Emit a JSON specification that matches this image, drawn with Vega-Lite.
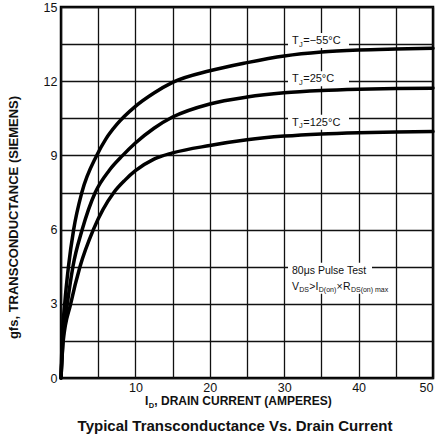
{
  "$schema": "https://vega.github.io/schema/vega-lite/v6.json",
  "width": 372,
  "height": 371,
  "autosize": {"type": "none"},
  "padding": {"left": 61, "top": 7, "right": 7, "bottom": 56},
  "background": "white",
  "config": {
    "font": "Liberation Sans",
    "view": {"stroke": "black", "strokeWidth": 2.5},
    "axis": {
      "labelFont": "Liberation Sans",
      "labelFontSize": 12.5,
      "labelColor": "#111",
      "grid": true,
      "gridColor": "#111",
      "gridWidth": 1.3,
      "gridOpacity": 1,
      "domain": false,
      "ticks": false,
      "tickCount": 30,
      "labelPadding": 4
    },
    "text": {"font": "Liberation Sans", "color": "#111"}
  },
  "title": {
    "text": "Typical Transconductance Vs. Drain Current",
    "orient": "bottom",
    "anchor": "middle",
    "font": "Liberation Sans",
    "fontSize": 15,
    "fontWeight": "bold",
    "color": "#111",
    "offset": 10,
    "dx": -12
  },
  "datasets": {
    "curves": [
      {"tj": "-55", "id": 0, "gfs": 0},
      {"tj": "-55", "id": 0.15, "gfs": 1.5},
      {"tj": "-55", "id": 0.5, "gfs": 3},
      {"tj": "-55", "id": 1.0, "gfs": 4.5},
      {"tj": "-55", "id": 1.7, "gfs": 6},
      {"tj": "-55", "id": 2.8, "gfs": 7.5},
      {"tj": "-55", "id": 4.8, "gfs": 9},
      {"tj": "-55", "id": 6, "gfs": 9.65},
      {"tj": "-55", "id": 7.5, "gfs": 10.25},
      {"tj": "-55", "id": 10, "gfs": 10.98},
      {"tj": "-55", "id": 12.5, "gfs": 11.52},
      {"tj": "-55", "id": 15, "gfs": 11.95},
      {"tj": "-55", "id": 20, "gfs": 12.42},
      {"tj": "-55", "id": 25, "gfs": 12.75},
      {"tj": "-55", "id": 30, "gfs": 13.02},
      {"tj": "-55", "id": 35, "gfs": 13.18},
      {"tj": "-55", "id": 40, "gfs": 13.26},
      {"tj": "-55", "id": 45, "gfs": 13.3},
      {"tj": "-55", "id": 50, "gfs": 13.33},
      {"tj": "25", "id": 0, "gfs": 0},
      {"tj": "25", "id": 0.25, "gfs": 1.5},
      {"tj": "25", "id": 0.85, "gfs": 3},
      {"tj": "25", "id": 1.6, "gfs": 4.5},
      {"tj": "25", "id": 2.85, "gfs": 6},
      {"tj": "25", "id": 4.6, "gfs": 7.5},
      {"tj": "25", "id": 6.5, "gfs": 8.4},
      {"tj": "25", "id": 8.3, "gfs": 9},
      {"tj": "25", "id": 10, "gfs": 9.5},
      {"tj": "25", "id": 12.5, "gfs": 10.1},
      {"tj": "25", "id": 15, "gfs": 10.55},
      {"tj": "25", "id": 20, "gfs": 11.08},
      {"tj": "25", "id": 25, "gfs": 11.36},
      {"tj": "25", "id": 30, "gfs": 11.53},
      {"tj": "25", "id": 35, "gfs": 11.62},
      {"tj": "25", "id": 40, "gfs": 11.67},
      {"tj": "25", "id": 45, "gfs": 11.7},
      {"tj": "25", "id": 50, "gfs": 11.72},
      {"tj": "125", "id": 0, "gfs": 0},
      {"tj": "125", "id": 0.3, "gfs": 1.5},
      {"tj": "125", "id": 1.3, "gfs": 3},
      {"tj": "125", "id": 2.55, "gfs": 4.5},
      {"tj": "125", "id": 4.35, "gfs": 6},
      {"tj": "125", "id": 7.1, "gfs": 7.5},
      {"tj": "125", "id": 8.6, "gfs": 8.0},
      {"tj": "125", "id": 10, "gfs": 8.38},
      {"tj": "125", "id": 12.5, "gfs": 8.85},
      {"tj": "125", "id": 15, "gfs": 9.1},
      {"tj": "125", "id": 20, "gfs": 9.4},
      {"tj": "125", "id": 25, "gfs": 9.63},
      {"tj": "125", "id": 30, "gfs": 9.78},
      {"tj": "125", "id": 35, "gfs": 9.87},
      {"tj": "125", "id": 40, "gfs": 9.92},
      {"tj": "125", "id": 45, "gfs": 9.95},
      {"tj": "125", "id": 50, "gfs": 9.97}
    ],
    "labels": [
      {"tj": "-55", "id": 31.05, "gfs": 13.5, "rest": "=−55°C"},
      {"tj": "25", "id": 31.05, "gfs": 11.96, "rest": "=25°C"},
      {"tj": "125", "id": 31.05, "gfs": 10.2, "rest": "=125°C"}
    ],
    "note1": [
      {"id": 31.05, "gfs": 4.22, "text": "80μs Pulse Test"}
    ],
    "note2": [
      {"id": 31.05, "gfs": 3.57}
    ],
    "xtitle": [
      {"id": 11.3, "gfs": 0}
    ]
  },
  "layer": [
    {
      "data": {"name": "labels"},
      "mark": {"type": "point", "shape": "M -0.04 -0.11 H 0.57 V 0.04 H -0.04 Z", "size": 40000, "filled": true, "color": "white", "opacity": 1, "strokeWidth": 0},
      "encoding": {
        "x": {"field": "id", "type": "quantitative"},
        "y": {"field": "gfs", "type": "quantitative"}
      }
    },
    {
      "data": {"name": "note1"},
      "mark": {"type": "point", "shape": "M -0.04 -0.11 H 0.8 V 0.2 H -0.04 Z", "size": 40000, "filled": true, "color": "white", "opacity": 1, "strokeWidth": 0},
      "encoding": {
        "x": {"field": "id", "type": "quantitative"},
        "y": {"field": "gfs", "type": "quantitative"}
      }
    },
    {
      "data": {"name": "curves"},
      "mark": {"type": "line", "interpolate": "monotone", "strokeWidth": 3.5, "color": "black", "strokeCap": "round"},
      "encoding": {
        "x": {
          "field": "id",
          "type": "quantitative",
          "scale": {"domain": [0, 50], "nice": false, "zero": false},
          "axis": {
            "values": [0, 5, 10, 15, 20, 25, 30, 35, 40, 45, 50],
            "labelExpr": "datum.value % 10 === 0 && datum.value > 0 ? datum.label : ' '",
            "labelPadding": 3,
            "title": null
          }
        },
        "y": {
          "field": "gfs",
          "type": "quantitative",
          "scale": {"domain": [0, 15], "nice": false},
          "axis": {
            "values": [0, 1.5, 3, 4.5, 6, 7.5, 9, 10.5, 12, 13.5, 15],
            "format": ".0f",
            "labelExpr": "datum.value % 3 === 0 ? datum.label : ' '",
            "title": "gfs, TRANSCONDUCTANCE (SIEMENS)",
            "titleFont": "Liberation Sans",
            "titleFontSize": 13,
            "titleFontWeight": "bold",
            "titleColor": "#111",
            "titleX": -48,
            "titleY": 210,
            "titleAngle": -90,
            "titleAlign": "center",
            "titleBaseline": "middle"
          }
        },
        "detail": {"field": "tj", "type": "nominal"}
      }
    },
    {
      "data": {"name": "labels"},
      "mark": {"type": "text", "align": "left", "baseline": "alphabetic", "fontSize": 11, "text": "T"},
      "encoding": {
        "x": {"field": "id", "type": "quantitative"},
        "y": {"field": "gfs", "type": "quantitative"}
      }
    },
    {
      "data": {"name": "labels"},
      "mark": {"type": "text", "align": "left", "baseline": "alphabetic", "fontSize": 7.5, "text": "J", "dx": 6.9, "dy": 2.5},
      "encoding": {
        "x": {"field": "id", "type": "quantitative"},
        "y": {"field": "gfs", "type": "quantitative"}
      }
    },
    {
      "data": {"name": "labels"},
      "mark": {"type": "text", "align": "left", "baseline": "alphabetic", "fontSize": 11, "dx": 11.2},
      "encoding": {
        "x": {"field": "id", "type": "quantitative"},
        "y": {"field": "gfs", "type": "quantitative"},
        "text": {"field": "rest"}
      }
    },
    {
      "data": {"name": "note1"},
      "mark": {"type": "text", "align": "left", "baseline": "alphabetic", "fontSize": 10.5},
      "encoding": {
        "x": {"field": "id", "type": "quantitative"},
        "y": {"field": "gfs", "type": "quantitative"},
        "text": {"field": "text"}
      }
    },
    {
      "data": {"name": "note2"},
      "mark": {"type": "text", "align": "left", "baseline": "alphabetic", "fontSize": 10.5, "text": "V"},
      "encoding": {"x": {"field": "id", "type": "quantitative"}, "y": {"field": "gfs", "type": "quantitative"}}
    },
    {
      "data": {"name": "note2"},
      "mark": {"type": "text", "align": "left", "baseline": "alphabetic", "fontSize": 7, "text": "DS", "dx": 7.2, "dy": 2.5},
      "encoding": {"x": {"field": "id", "type": "quantitative"}, "y": {"field": "gfs", "type": "quantitative"}}
    },
    {
      "data": {"name": "note2"},
      "mark": {"type": "text", "align": "left", "baseline": "alphabetic", "fontSize": 10.5, "text": ">", "dx": 17.2},
      "encoding": {"x": {"field": "id", "type": "quantitative"}, "y": {"field": "gfs", "type": "quantitative"}}
    },
    {
      "data": {"name": "note2"},
      "mark": {"type": "text", "align": "left", "baseline": "alphabetic", "fontSize": 10.5, "text": "I", "dx": 23.6},
      "encoding": {"x": {"field": "id", "type": "quantitative"}, "y": {"field": "gfs", "type": "quantitative"}}
    },
    {
      "data": {"name": "note2"},
      "mark": {"type": "text", "align": "left", "baseline": "alphabetic", "fontSize": 7, "text": "D(on)", "dx": 26.8, "dy": 2.5},
      "encoding": {"x": {"field": "id", "type": "quantitative"}, "y": {"field": "gfs", "type": "quantitative"}}
    },
    {
      "data": {"name": "note2"},
      "mark": {"type": "text", "align": "left", "baseline": "alphabetic", "fontSize": 10.5, "text": "×", "dx": 44.6},
      "encoding": {"x": {"field": "id", "type": "quantitative"}, "y": {"field": "gfs", "type": "quantitative"}}
    },
    {
      "data": {"name": "note2"},
      "mark": {"type": "text", "align": "left", "baseline": "alphabetic", "fontSize": 10.5, "text": "R", "dx": 51.0},
      "encoding": {"x": {"field": "id", "type": "quantitative"}, "y": {"field": "gfs", "type": "quantitative"}}
    },
    {
      "data": {"name": "note2"},
      "mark": {"type": "text", "align": "left", "baseline": "alphabetic", "fontSize": 7, "text": "DS(on) max", "dx": 58.9, "dy": 2.5},
      "encoding": {"x": {"field": "id", "type": "quantitative"}, "y": {"field": "gfs", "type": "quantitative"}}
    },
    {
      "data": {"name": "xtitle"},
      "mark": {"type": "text", "align": "left", "baseline": "alphabetic", "fontSize": 12, "fontWeight": "bold", "text": "I", "dy": 27},
      "encoding": {"x": {"field": "id", "type": "quantitative"}, "y": {"field": "gfs", "type": "quantitative"}}
    },
    {
      "data": {"name": "xtitle"},
      "mark": {"type": "text", "align": "left", "baseline": "alphabetic", "fontSize": 7.5, "fontWeight": "bold", "text": "D", "dx": 3.6, "dy": 29.5},
      "encoding": {"x": {"field": "id", "type": "quantitative"}, "y": {"field": "gfs", "type": "quantitative"}}
    },
    {
      "data": {"name": "xtitle"},
      "mark": {"type": "text", "align": "left", "baseline": "alphabetic", "fontSize": 12, "fontWeight": "bold", "text": ", DRAIN CURRENT (AMPERES)", "dx": 9.3, "dy": 27},
      "encoding": {"x": {"field": "id", "type": "quantitative"}, "y": {"field": "gfs", "type": "quantitative"}}
    }
  ]
}
